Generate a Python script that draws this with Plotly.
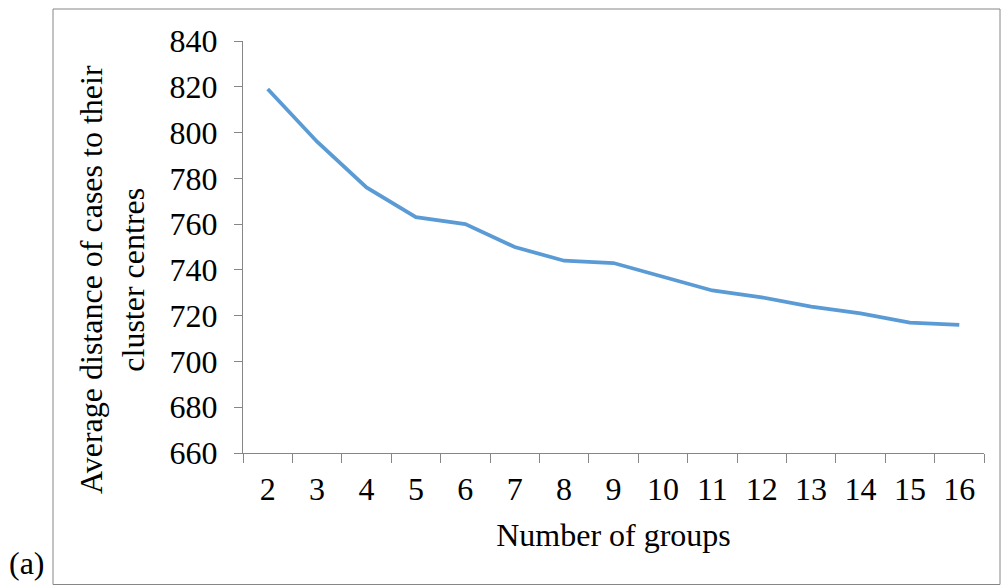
import plotly.graph_objects as go

groups = ["2", "3", "4", "5", "6", "7", "8", "9", "10", "11", "12", "13", "14", "15", "16"]
avg_distance = [819, 796, 776, 763, 760, 750, 744, 743, 737, 731, 728, 724, 721, 717, 716]
y_ticks = [660, 680, 700, 720, 740, 760, 780, 800, 820, 840]

W, H = 1002, 585
L, R, T, B = 243, 984, 41, 453
pw, ph = R - L, B - T

def px(x):
    return (x - L) / pw

def py(y):
    return (B - y) / ph

font = "Liberation Serif"
fs = 32
axis_color = "#868686"

fig = go.Figure()
fig.add_trace(go.Scatter(
    x=groups, y=avg_distance, mode="lines",
    line=dict(color="#5B9BD5", width=3.8),
    showlegend=False,
))

fig.update_layout(
    width=W, height=H,
    margin=dict(l=L, r=W - R, t=T, b=H - B),
    paper_bgcolor="white", plot_bgcolor="white",
    font=dict(family=font, size=fs, color="black"),
    xaxis=dict(
        type="category", tickson="boundaries", range=[-0.5, 14.5],
        showline=True, linecolor=axis_color, linewidth=1.3,
        ticks="outside", ticklen=9, tickcolor=axis_color, tickwidth=1.3,
        showgrid=False, zeroline=False,
        tickfont=dict(family=font, size=fs),
        ticklabelstandoff=7,
        title=dict(text="Number of groups", font=dict(family=font, size=fs), standoff=18),
    ),
    yaxis=dict(
        range=[660, 840], tickvals=y_ticks,
        showline=True, linecolor=axis_color, linewidth=1.3,
        ticks="outside", ticklen=8, tickcolor=axis_color, tickwidth=1.3,
        showgrid=False, zeroline=False,
        tickfont=dict(family=font, size=fs),
        ticklabelstandoff=10,
    ),
    annotations=[
        dict(text="Average distance of cases to their<br>cluster centres",
             x=px(112), y=py(280), xref="paper", yref="paper",
             textangle=-90, showarrow=False, align="center",
             xanchor="center", yanchor="middle",
             font=dict(family=font, size=fs)),
        dict(text="(a)", x=px(27), y=py(563), xref="paper", yref="paper",
             showarrow=False, xanchor="center", yanchor="middle",
             font=dict(family=font, size=fs)),
    ],
    shapes=[
        dict(type="rect", xref="paper", yref="paper",
             x0=px(53), x1=px(1000), y0=py(584.5), y1=py(9),
             line=dict(color=axis_color, width=1), layer="below"),
    ],
)

fig.write_html("out.html", config={"displayModeBar": False},
               post_script="document.body.style.margin='0';")
